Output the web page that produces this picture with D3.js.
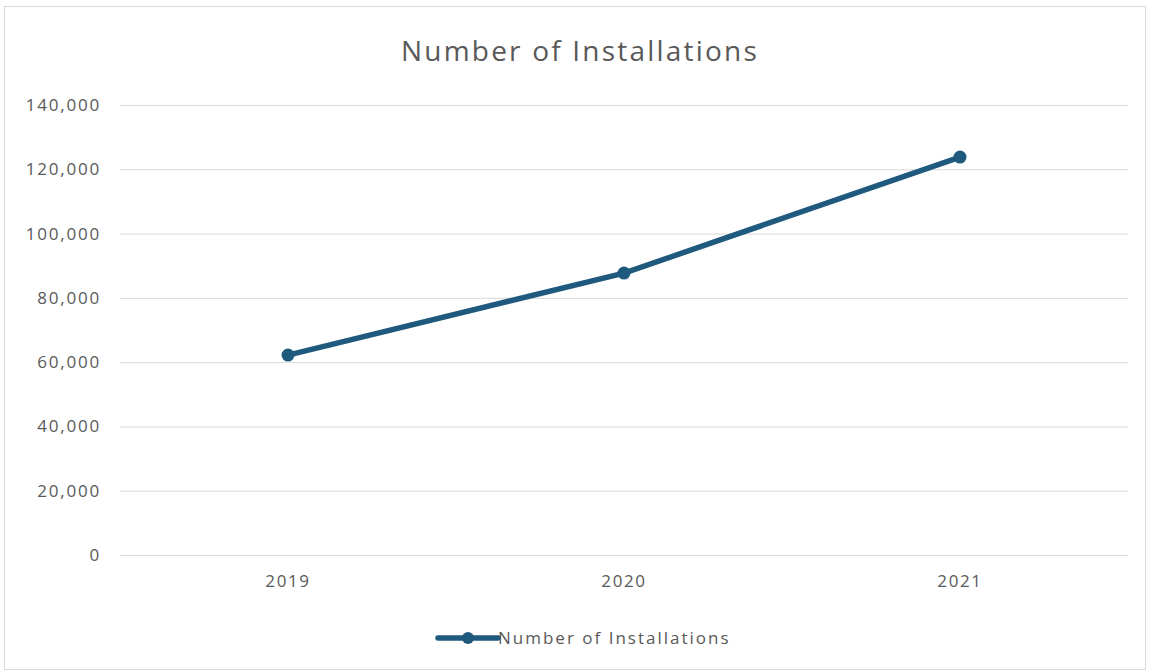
<!DOCTYPE html>
<html><head><meta charset="utf-8">
<script src="https://cdn.jsdelivr.net/npm/d3@7"></script>
<style>body{margin:0;background:#fff;} text{font-family:"Open Sans",sans-serif;}</style>
</head><body>
<svg id="c" width="1149" height="672"></svg>
<script>
const categories = ["2019", "2020", "2021"];
const values = [62200, 87700, 123800];
const yTicks = [0, 20000, 40000, 60000, 80000, 100000, 120000, 140000];
const seriesName = "Number of Installations";
const title = "Number of Installations";

const svg = d3.select("#c");
const color = "#1f5a7e", textColor = "#595959", gridColor = "#d9d9d9";
svg.append("rect").attr("x",4.5).attr("y",6.5).attr("width",1141).attr("height",663)
  .attr("fill","#fff").attr("stroke","#d9d9d9");

const x = d3.scaleBand().domain(categories).range([120,1128]);
const y = d3.scaleLinear().domain([0,140000]).range([555,105]);

svg.append("text").attr("x",580).attr("y",61).attr("text-anchor","middle")
  .attr("font-size",28).attr("letter-spacing",2.2).attr("fill",textColor).text(title);

const yAxis = svg.append("g").attr("transform","translate(120,0)")
  .call(d3.axisLeft(y).tickValues(yTicks).tickFormat(d3.format(",")).tickSize(-1008).tickPadding(19));
yAxis.select(".domain").remove();
yAxis.selectAll("line").attr("stroke",gridColor);
yAxis.selectAll("text").attr("font-size",17).attr("letter-spacing",1.8).attr("fill",textColor).attr("font-family","Open Sans");

const xAxis = svg.append("g").attr("transform","translate(0,555)")
  .call(d3.axisBottom(x).tickSize(0).tickPadding(20));
xAxis.select(".domain").remove();
xAxis.selectAll("text").attr("font-size",17).attr("letter-spacing",1.6).attr("fill",textColor).attr("font-family","Open Sans");

const pts = categories.map((c,i)=>[x(c)+x.bandwidth()/2, y(values[i])]);
svg.append("path").attr("d", d3.line()(pts)).attr("fill","none")
  .attr("stroke",color).attr("stroke-width",5.5).attr("stroke-linecap","round");
svg.selectAll("circle.pt").data(pts).enter().append("circle").attr("class","pt")
  .attr("cx",d=>d[0]).attr("cy",d=>d[1]).attr("r",6.5).attr("fill",color);

const lg = svg.append("g").attr("transform","translate(438,638)");
lg.append("line").attr("x1",0).attr("x2",60).attr("y1",0).attr("y2",0)
  .attr("stroke",color).attr("stroke-width",5.5).attr("stroke-linecap","round");
lg.append("circle").attr("cx",30).attr("cy",0).attr("r",6).attr("fill",color);
lg.append("text").attr("x",60).attr("y",6).attr("font-size",17).attr("letter-spacing",2).attr("fill",textColor).text(seriesName);
</script>
</body></html>
